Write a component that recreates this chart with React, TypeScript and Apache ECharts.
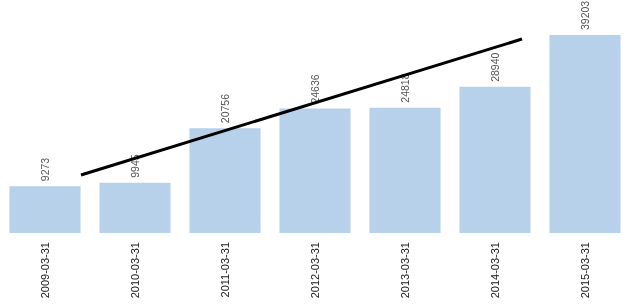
import React, { useEffect, useRef } from "react";
import * as echarts from "echarts";

const categories = ["2009-03-31", "2010-03-31", "2011-03-31", "2012-03-31", "2013-03-31", "2014-03-31", "2015-03-31"];
const values = [9273, 9945, 20756, 24636, 24818, 28940, 39203];
const trendX = [0.4, 5.3];
const trendY = [11485, 38416];

export default function App() {
  const ref = useRef<HTMLDivElement>(null);
  useEffect(() => {
    if (!ref.current) return;
    const chart = echarts.init(ref.current, undefined, { renderer: "svg" });
    chart.setOption({
      animation: false,
      grid: { left: 0, right: 5, top: 31, height: 202 },
      xAxis: [
        {
          type: "category",
          data: categories,
          axisLine: { show: false },
          axisTick: { show: false },
          axisLabel: {
            rotate: 90,
            margin: 9,
            fontSize: 11,
            color: "#222",
            fontFamily: "Liberation Sans, Arial, sans-serif",
          },
        },
        { type: "value", min: -0.5, max: 6.5, show: false },
      ],
      yAxis: { type: "value", min: 0, max: 40000, show: false, splitLine: { show: false } },
      series: [
        {
          type: "bar",
          data: values,
          barCategoryGap: "21%",
          itemStyle: { color: "#b7d1ea" },
          label: {
            show: true,
            position: "top",
            distance: 5,
            rotate: 90,
            align: "left",
            verticalAlign: "middle",
            fontSize: 10.5,
            color: "#555",
            fontFamily: "Liberation Sans, Arial, sans-serif",
          },
        },
        {
          type: "line",
          xAxisIndex: 1,
          data: trendX.map((x, i) => [x, trendY[i]]),
          symbol: "none",
          lineStyle: { color: "#000", width: 3 },
        },
      ],
    });
    return () => chart.dispose();
  }, []);
  return <div ref={ref} style={{ position: "fixed", left: 0, top: 0, width: 635, height: 307 }} />;
}
